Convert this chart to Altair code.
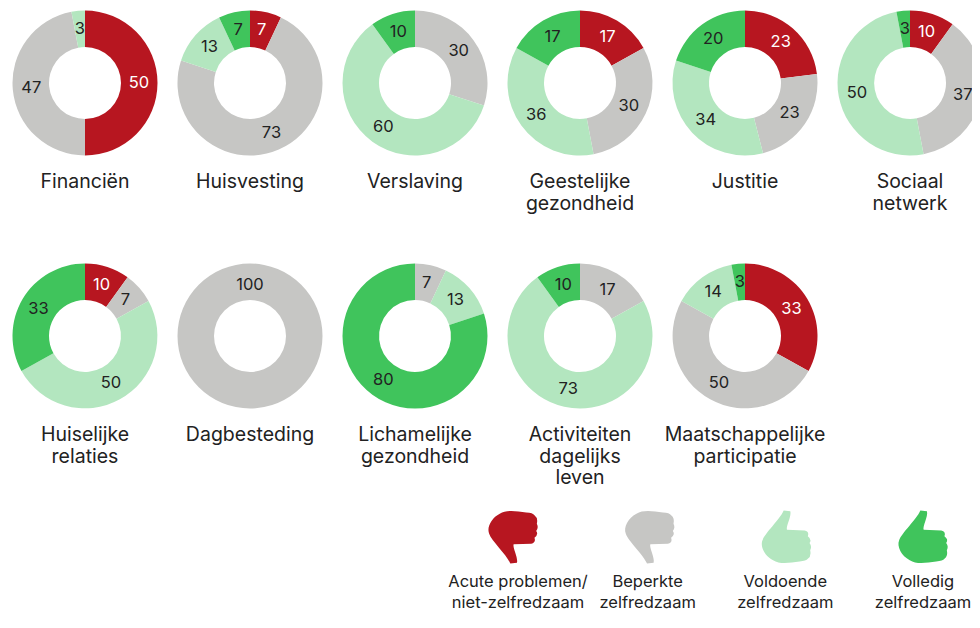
import altair as alt
import pandas as pd

FONT = "Inter"
levels = ["Acute problemen", "Beperkt", "Voldoende", "Volledig"]
colors = ["#B71620", "#C6C6C4", "#B3E6BF", "#40C45C"]

names = ["Financiën", "Huisvesting", "Verslaving", "Geestelijke\ngezondheid", "Justitie", "Sociaal\nnetwerk",
         "Huiselijke\nrelaties", "Dagbesteding", "Lichamelijke\ngezondheid", "Activiteiten\ndagelijks\nleven",
         "Maatschappelijke\nparticipatie"]

financien = [50, 47, 3, 0]
huisvesting = [7, 73, 13, 7]
verslaving = [0, 30, 60, 10]
geestelijke = [17, 30, 36, 17]
justitie = [23, 23, 34, 20]
sociaal = [10, 37, 50, 3]
huiselijke = [10, 7, 50, 33]
dagbesteding = [0, 100, 0, 0]
lichamelijke = [0, 7, 13, 80]
activiteiten = [0, 17, 73, 10]
maatschappelijk = [33, 50, 14, 3]
series = [financien, huisvesting, verslaving, geestelijke, justitie, sociaal,
          huiselijke, dagbesteding, lichamelijke, activiteiten, maatschappelijk]

legend_labels = ["Acute problemen/\nniet-zelfredzaam", "Beperkte\nzelfredzaam", "Voldoende\nzelfredzaam", "Volledig\nzelfredzaam"]
legend_dx = [5, -2, -1, 0]

THUMB_DOWN = ("M -0.1 1 L 0.15 0.975 C 0.2 0.775 -0.025 0.4 0.025 0.275 L 0.69 0.25 "
              "Q 0.875 0.21 0.81 0.025 Q 0.975 -0.1 0.875 -0.225 Q 0.975 -0.35 0.9 -0.5 "
              "Q 0.95 -0.725 0.81 -0.825 Q 0.75 -0.91 0.5 -0.925 C 0.125 -0.975 -0.25 -1.04 -0.5 -0.875 "
              "C -0.81 -0.725 -1 -0.35 -0.9 -0.125 C -0.81 0.15 -0.25 0.65 -0.1 1 Z")
THUMB_UP = ("M -0.1 -1 L 0.15 -0.975 C 0.2 -0.775 -0.025 -0.4 0.025 -0.275 L 0.69 -0.25 "
            "Q 0.875 -0.21 0.81 -0.025 Q 0.975 0.1 0.875 0.225 Q 0.975 0.35 0.9 0.5 "
            "Q 0.95 0.725 0.81 0.825 Q 0.75 0.91 0.5 0.925 C 0.125 0.975 -0.25 1.04 -0.5 0.875 "
            "C -0.81 0.725 -1 0.35 -0.9 0.125 C -0.81 -0.15 -0.25 -0.65 -0.1 -1 Z")

rows = []
for p, (name, vals) in enumerate(zip(names, series)):
    col, row = (p, 0) if p < 6 else (p - 6, 1)
    for r, (lev, v) in enumerate(zip(levels, vals)):
        if v > 0:
            rows.append({"panel": p, "col": col, "row": row, "level": lev, "rank": r, "value": v})
df = pd.DataFrame(rows)
names_df = pd.DataFrame({"name": names, "col": [i if i < 6 else i - 6 for i in range(11)],
                         "row": [0 if i < 6 else 1 for i in range(11)]})

X = alt.X("col:Q", scale=alt.Scale(domain=[0, 5], range=[77, 902]), axis=None)
Y = alt.Y("row:Q", scale=alt.Scale(domain=[0, 1], range=[75, 328]), axis=None)
angle = alt.Scale(domain=[0, 100], range=[0, 6.283185307])

base = alt.Chart(df).transform_stack(
    stack="value", groupby=["panel"], sort=[alt.SortField("rank", order="ascending")], as_=["s0", "s1"]
).transform_calculate(mid="datum.value >= 100 ? 0 : (datum.s0 + datum.s1) / 2",
                      rad="datum.value >= 100 ? 51 : 54")

arcs = base.mark_arc(outerRadius=72.5, innerRadius=36).encode(
    x=X, y=Y,
    theta=alt.Theta("s0:Q", scale=angle, stack=None), theta2="s1:Q",
    color=alt.Color("level:N", scale=alt.Scale(domain=levels, range=colors), legend=None),
)
labels = base.mark_text(font=FONT, fontSize=16.5).encode(
    x=X, y=Y,
    theta=alt.Theta("mid:Q", scale=angle, stack=None),
    radius=alt.Radius("rad:Q", scale=None),
    text="value:Q",
    color=alt.condition("datum.rank == 0", alt.value("#FFFFFF"), alt.value("#222222")),
)
titles = alt.Chart(names_df).mark_text(
    font=FONT, fontSize=19.5, color="#222222", baseline="top", align="center",
    lineBreak="\n", lineHeight=21.5, dy=90,
).encode(x=X, y=Y, text="name:N")

x_scale = alt.Scale(type="point", domain=levels, range=[505, 915], padding=0)
LX = alt.X("level:N", scale=x_scale, axis=None)
legend_layers = []
for i, lev in enumerate(levels):
    d = pd.DataFrame({"level": [lev], "label": [legend_labels[i]]})
    legend_layers.append(alt.Chart(d).mark_point(
        shape=THUMB_DOWN if i < 2 else THUMB_UP, filled=True, opacity=1, size=2809,
        color=colors[i], strokeWidth=0
    ).encode(x=LX, y=alt.value(529)))
    legend_layers.append(alt.Chart(d).mark_text(
        font=FONT, fontSize=16.5, color="#222222", baseline="top", align="center",
        lineBreak="\n", lineHeight=21, dx=legend_dx[i],
    ).encode(x=LX, y=alt.value(566), text="label:N"))

chart = alt.layer(arcs, labels, titles, *legend_layers).resolve_scale(x="independent").properties(
    width=964, height=606, padding=0,
    autosize=alt.AutoSizeParams(type="fit", contains="padding"),
).configure_view(strokeWidth=0)
chart.save("out.html", embed_options={"renderer": "svg", "actions": False})
